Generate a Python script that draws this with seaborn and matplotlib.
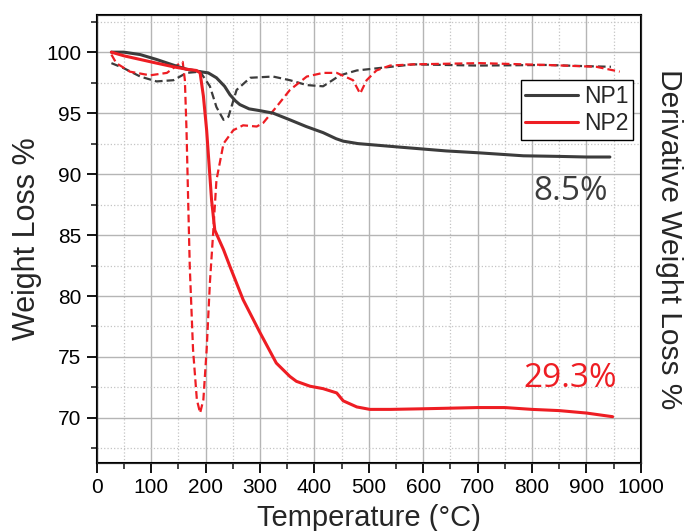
"""TGA / DTG curves for NP1 and NP2 (weight loss vs temperature)."""

import matplotlib

matplotlib.use("Agg")
import matplotlib.pyplot as plt
import seaborn as sns
from matplotlib.lines import Line2D
from matplotlib.ticker import MultipleLocator

# --- data --------------------------------------------------------------------
NP1_TEMP = [27, 50, 80, 110, 140, 165, 190, 205, 220, 235, 245, 255, 263, 280,
            300, 324, 355, 385, 416, 440, 453, 480, 520, 560, 642, 700, 784,
            850, 900, 943]
NP1_WEIGHT = [100.0, 100.0, 99.8, 99.4, 98.95, 98.6, 98.4, 98.3, 97.9, 97.2,
              96.5, 96.0, 95.7, 95.35, 95.2, 95.0, 94.45, 93.9, 93.4, 92.9,
              92.7, 92.5, 92.35, 92.2, 91.9, 91.75, 91.5, 91.45, 91.4, 91.4]

NP2_TEMP = [27, 50, 80, 110, 141, 165, 183, 190, 196, 202, 211, 217, 233, 245,
            269, 300, 330, 355, 367, 392, 416, 441, 453, 478, 502, 540, 600,
            650, 700, 750, 800, 850, 900, 948]
NP2_WEIGHT = [100.0, 99.7, 99.4, 99.1, 98.8, 98.6, 98.5, 98.3, 96.4, 93.6,
              87.9, 85.4, 83.8, 82.4, 79.7, 77.0, 74.5, 73.4, 73.0, 72.6, 72.4,
              72.05, 71.4, 70.9, 70.7, 70.7, 70.75, 70.8, 70.85, 70.85, 70.7,
              70.6, 70.4, 70.1]

# derivative curves (arbitrary units, read on the left-axis scale)
NP1_DTG_TEMP = [27, 49, 80, 110, 141, 165, 190, 208, 220, 233, 242, 257, 282,
                324, 355, 386, 416, 447, 478, 520, 582, 700, 827, 900, 945]
NP1_DTG = [99.1, 98.7, 98.0, 97.6, 97.7, 98.3, 98.4, 97.2, 95.5, 94.45, 94.7,
           96.9, 97.9, 98.0, 97.7, 97.3, 97.2, 98.1, 98.5, 98.7, 99.0, 98.9,
           98.95, 98.85, 98.8]

NP2_DTG_TEMP = [27, 36, 61, 98, 129, 153, 158, 162, 165, 168, 171, 177, 184,
                190, 196, 202, 208, 214, 220, 233, 251, 269, 294, 306, 330, 355,
                386, 416, 441, 471, 484, 496, 514, 539, 582, 704, 827, 918, 961]
NP2_DTG = [99.8, 99.1, 98.4, 98.1, 98.3, 99.1, 99.2, 97.7, 93.6, 87.9, 82.4,
           75.6, 71.5, 70.4, 71.5, 75.6, 81.1, 85.2, 89.5, 92.5, 93.6, 94.0,
           93.9, 94.2, 95.5, 96.9, 98.0, 98.3, 98.3, 97.7, 96.6, 97.7, 98.5,
           98.9, 99.0, 99.1, 98.95, 98.8, 98.4]

SAMPLE_LABELS = ["NP1", "NP2"]
LOSS_LABELS = ["8.5%", "29.3%"]

COLOR_NP1 = "#3c3c3c"
COLOR_NP2 = "#ee1d23"

sns.set_style("white")
plt.rcParams["font.family"] = ["Liberation Sans", "DejaVu Sans"]


def style_axes(ax):
    ax.set_xlim(0, 1000)
    ax.set_ylim(66.3, 103.05)
    ax.xaxis.set_major_locator(MultipleLocator(100))
    ax.xaxis.set_minor_locator(MultipleLocator(50))
    ax.yaxis.set_major_locator(MultipleLocator(5))
    ax.yaxis.set_minor_locator(MultipleLocator(2.5))
    ax.grid(True, which="major", color="#b5b5b5", linewidth=1.0, linestyle="-")
    ax.grid(True, which="minor", color="#c4c4c4", linewidth=0.9, linestyle=":")
    ax.set_axisbelow(True)
    for spine in ax.spines.values():
        spine.set_visible(True)
        spine.set_color("black")
        spine.set_linewidth(1.5)
    ax.tick_params(which="major", direction="out", length=7, width=1.3,
                   labelsize=15, pad=4, bottom=True, left=True, top=False,
                   right=False, colors="black")
    ax.tick_params(which="minor", direction="out", length=4, width=1.2,
                   bottom=True, left=True, top=False, right=False)


def main():
    fig = plt.figure(figsize=(6.84, 5.31), dpi=100)
    ax = fig.add_axes([0.1414, 0.128, 0.7956, 0.8438])
    style_axes(ax)

    sns.lineplot(x=NP1_DTG_TEMP, y=NP1_DTG, ax=ax, color=COLOR_NP1,
                 linewidth=1.6, linestyle=(0, (3.5, 1.8)))
    sns.lineplot(x=NP2_DTG_TEMP, y=NP2_DTG, ax=ax, color=COLOR_NP2,
                 linewidth=1.6, linestyle=(0, (3.5, 1.8)))
    sns.lineplot(x=NP1_TEMP, y=NP1_WEIGHT, ax=ax, color=COLOR_NP1, linewidth=2.2)
    sns.lineplot(x=NP2_TEMP, y=NP2_WEIGHT, ax=ax, color=COLOR_NP2, linewidth=2.2)

    ax.set_xlabel("Temperature (°C)", fontsize=21, labelpad=5)
    ax.set_ylabel("Weight Loss %", fontsize=22, labelpad=3)

    # the right axis only carries its title
    ax_right = ax.twinx()
    ax_right.set_ylim(ax.get_ylim())
    ax_right.set_yticks([])
    ax_right.set_ylabel("Derivative Weight Loss %", fontsize=21.5, rotation=270,
                        labelpad=30)

    ax.text(870, 88.6, LOSS_LABELS[0], color=COLOR_NP1, fontsize=24,
            ha="center", va="center", family=["Open Sans", "DejaVu Sans"])
    ax.text(870, 73.25, LOSS_LABELS[1], color=COLOR_NP2, fontsize=24,
            ha="center", va="center", family=["Open Sans", "DejaVu Sans"])

    handles = [Line2D([], [], color=COLOR_NP1, linewidth=2.2),
               Line2D([], [], color=COLOR_NP2, linewidth=2.2)]
    leg = ax.legend(handles, SAMPLE_LABELS, loc="upper right",
                    bbox_to_anchor=(0.985, 0.855), borderaxespad=0,
                    fancybox=False, framealpha=1, edgecolor="black",
                    fontsize=16.5, handlelength=2.3, handletextpad=0.25,
                    borderpad=0.2, labelspacing=0.2)
    leg.get_frame().set_linewidth(1.0)

    fig.savefig("out.png", dpi=100)
    plt.close(fig)


if __name__ == "__main__":
    main()
